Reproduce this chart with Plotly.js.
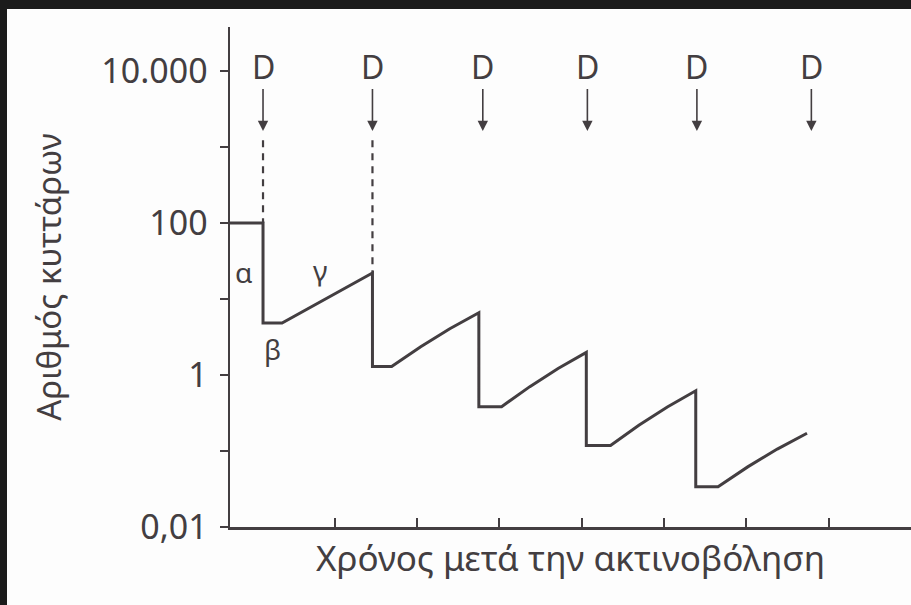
<!DOCTYPE html>
<html>
<head>
<meta charset="utf-8">
<script src="https://cdn.plot.ly/plotly-3.0.1.min.js"></script>
<style>
  html, body { margin: 0; padding: 0; background: #1b1b1b; width: 911px; height: 605px; overflow: hidden; }
  #chart { position: absolute; left: 7px; top: 9px; width: 904px; height: 596px; background: #fdfdfd; }
</style>
</head>
<body>
<div id="chart"></div>
<script>
// Survival curve: time after irradiation (arbitrary units) vs number of cells (log)
const timePts = [-0.27, 0.131, 0.131, 0.362, 1.46,
                 1.46, 1.693, 2.046, 2.399, 2.752,
                 2.752, 3.028, 3.371, 3.714, 4.057,
                 4.057, 4.351, 4.695, 5.041, 5.386,
                 5.386, 5.657, 6.017, 6.376, 6.737];
const cellPts = [100, 100, 4.83, 4.83, 22.0,
                 1.29, 1.29, 2.36, 4.06, 6.61,
                 0.383, 0.383, 0.703, 1.218, 1.98,
                 0.118, 0.118, 0.218, 0.380, 0.621,
                 0.0339, 0.0339, 0.0618, 0.106, 0.171];

// Dose fractions D
const doseTimes = [0.131, 1.46, 2.80, 4.07, 5.40, 6.79];
const doseLabel = 'D';
const arrowTipValue = 1622;

// Dashed guides under the first two doses
const dashTimes = [0.131, 1.46];
const dashTopValue = 1230;
const dashBottomValues = [100, 22.0];

// Phase labels
const phaseLabels = ['α', 'β', 'γ'];
const phaseTimes = [-0.112, 0.240, 0.823];
const phaseValues = [22.6, 2.2, 24.1];

// Y axis ticks
const yTickVals = [0.01, 0.1, 1, 10, 100, 1000, 10000];
const yTickText = ['0,01', '', '1', '', '100', '', '10.000'];
const xTickVals = [1, 2, 3, 4, 5, 6, 7, 8];

const xTitle = 'Χρόνος μετά την ακτινοβόληση';
const yTitle = 'Αριθμός κυττάρων';

const ink = '#433e41';
const font = 'Noto Sans, DejaVu Sans, sans-serif';

const traces = [];
traces.push({
  x: timePts, y: cellPts, type: 'scatter', mode: 'lines',
  line: { color: ink, width: 3 }, hoverinfo: 'skip', showlegend: false
});
dashTimes.forEach((t, i) => {
  traces.push({
    x: [t, t], y: [dashTopValue, dashBottomValues[i]], type: 'scatter', mode: 'lines',
    line: { color: ink, width: 2.2, dash: '7px,6px' }, hoverinfo: 'skip', showlegend: false
  });
});

const annotations = [];
doseTimes.forEach(t => {
  annotations.push({
    x: t, y: Math.log10(arrowTipValue), xref: 'x', yref: 'y',
    text: doseLabel, showarrow: true, arrowhead: 2, arrowsize: 1.3, arrowwidth: 1.6,
    arrowcolor: ink, ax: 0, ay: -65, standoff: 0,
    font: { family: font, size: 32, color: ink }
  });
});
phaseLabels.forEach((lab, i) => {
  annotations.push({
    x: phaseTimes[i], y: Math.log10(phaseValues[i]), xref: 'x', yref: 'y',
    text: lab, showarrow: false,
    font: { family: font, size: 28, color: ink }
  });
});

const layout = {
  width: 904, height: 596,
  margin: { l: 223, r: 0, t: 18, b: 78 },
  paper_bgcolor: '#fdfdfd', plot_bgcolor: '#fdfdfd',
  showlegend: false,
  font: { family: font, color: ink },
  xaxis: {
    range: [-0.27, 8.0], tickvals: xTickVals, showticklabels: false,
    ticks: 'inside', ticklen: 9, tickwidth: 2, tickcolor: ink,
    showline: true, linecolor: ink, linewidth: 2.5, showgrid: false, zeroline: false,
    title: { text: xTitle, font: { family: font, size: 35, color: ink }, standoff: 18 }
  },
  yaxis: {
    type: 'log', range: [-2, 4.579], tickvals: yTickVals, ticktext: yTickText,
    ticks: 'outside', ticklen: 8, tickwidth: 2, tickcolor: ink,
    ticklabelstandoff: 5,
    tickfont: { family: font, size: 34, color: ink },
    showline: true, linecolor: ink, linewidth: 2.5, showgrid: false, zeroline: false,
    title: { text: yTitle, font: { family: font, size: 33, color: ink }, standoff: 30 }
  },
  annotations: annotations
};

Plotly.newPlot('chart', traces, layout, { staticPlot: true, displayModeBar: false });
</script>
</body>
</html>
